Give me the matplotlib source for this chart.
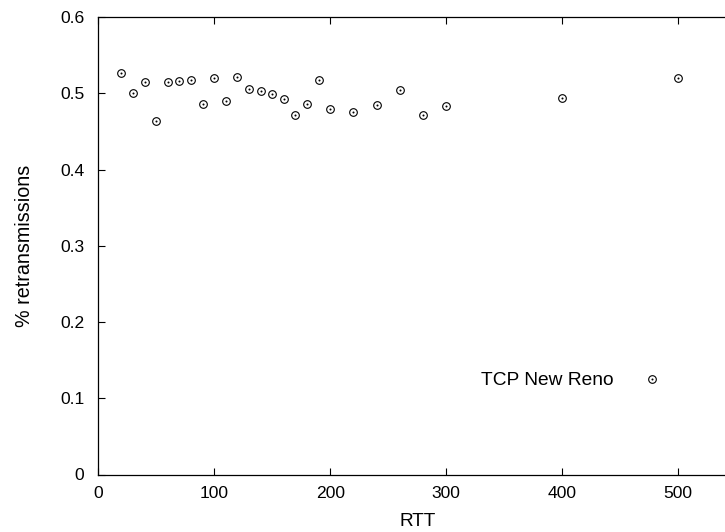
import matplotlib
matplotlib.use("Agg")
import matplotlib.pyplot as plt
from matplotlib.path import Path
import numpy as np

rtt = [20, 30, 40, 50, 60, 70, 80, 90, 100, 110, 120, 130, 140, 150, 160, 170,
       180, 190, 200, 220, 240, 260, 280, 300, 400, 500]
retrans = [0.527, 0.500, 0.515, 0.464, 0.515, 0.516, 0.518, 0.486, 0.520, 0.490,
           0.521, 0.506, 0.503, 0.499, 0.493, 0.472, 0.486, 0.518, 0.480, 0.476,
           0.484, 0.504, 0.472, 0.483, 0.494, 0.520]
series_label = "TCP New Reno"
xticks = [0, 100, 200, 300, 400, 500]
yticks = [0, 0.1, 0.2, 0.3, 0.4, 0.5, 0.6]
ytick_labels = ["0", "0.1", "0.2", "0.3", "0.4", "0.5", "0.6"]

plt.rcParams['font.family'] = ['Liberation Sans', 'DejaVu Sans']

# circle with center dot marker
outer = Path.circle((0, 0), 1.0)
inner = Path.circle((0, 0), 0.12)
marker_path = Path.make_compound_path(outer, inner)

fig = plt.figure(figsize=(7.25, 5.32), dpi=100)
ax = fig.add_axes([98.3 / 725, (532 - 474.5) / 532, (736 - 98.3) / 725, 457.5 / 532])

ax.plot(rtt, retrans, linestyle='none', marker=marker_path, markersize=5.5,
        markerfacecolor='none', markeredgecolor='black', markeredgewidth=0.8,
        label=series_label)

ax.set_xlim(0, 550)
ax.set_ylim(0, 0.6)
ax.set_xticks(xticks)
ax.set_yticks(yticks)
ax.set_yticklabels(ytick_labels)
ax.tick_params(axis='both', direction='in', length=5, width=0.8, labelsize=12.6,
               top=True, right=True)
ax.tick_params(axis='x', pad=8)
ax.tick_params(axis='y', pad=10)
ax.spines['right'].set_visible(False)
for s in ['left', 'bottom', 'top']:
    ax.spines[s].set_linewidth(0.9)

ax.set_xlabel("RTT", fontsize=13.7, labelpad=9)
ax.set_ylabel("% retransmissions", fontsize=14.2, labelpad=19)

leg = ax.legend(loc='center right', bbox_to_anchor=(0.898, 0.205), frameon=False,
                markerfirst=False, fontsize=13.8, handlelength=2.0, handletextpad=1.0,
                borderpad=0, borderaxespad=0)

fig.savefig("out.png", dpi=100)
